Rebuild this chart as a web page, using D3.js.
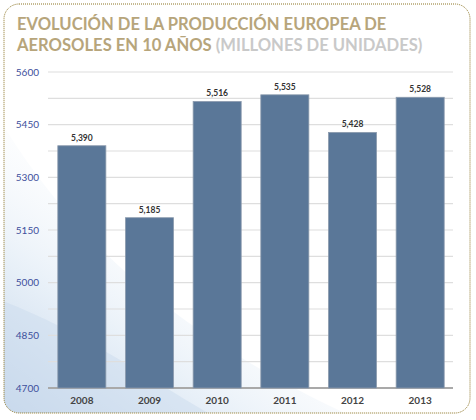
<!DOCTYPE html>
<html>
<head>
<meta charset="utf-8">
<script src="https://cdn.jsdelivr.net/npm/d3@7"></script>
<style>
  body { margin: 0; background: #fff; }
</style>
</head>
<body>
<div id="chart"></div>
<script>
const years = ["2008", "2009", "2010", "2011", "2012", "2013"];
const production = [5390, 5185, 5516, 5535, 5428, 5528];
const yTicks = [4700, 4850, 5000, 5150, 5300, 5450, 5600];
const titleLine1 = "EVOLUCIÓN DE LA PRODUCCIÓN EUROPEA DE";
const titleLine2 = "AEROSOLES EN 10 AÑOS";
const titleUnits = "(MILLONES DE UNIDADES)";

const W = 476, H = 420;
const margin = { top: 72, right: 22, bottom: 32, left: 48 };

const svg = d3.select("#chart")
  .append("svg")
    .attr("width", W)
    .attr("height", H);

// soft blue swoosh in the background
const defs = svg.append("defs");
const grad = defs.append("linearGradient")
  .attr("id", "swoosh")
  .attr("x1", "0").attr("y1", "1").attr("x2", "0.6").attr("y2", "0.3");
grad.append("stop").attr("offset", "0").attr("stop-color", "#c3d5ea");
grad.append("stop").attr("offset", "0.45").attr("stop-color", "#e8f0f8");
grad.append("stop").attr("offset", "1").attr("stop-color", "#ffffff").attr("stop-opacity", 0);

const clip = defs.append("clipPath").attr("id", "frameClip");
clip.append("rect")
  .attr("x", 4).attr("y", 4).attr("width", 466).attr("height", 409).attr("rx", 15);

const bg = svg.append("g").attr("clip-path", "url(#frameClip)");
bg.append("rect").attr("x", 0).attr("y", 0).attr("width", W).attr("height", H).attr("fill", "#fff");
bg.append("path")
  .attr("d", "M0,120 C60,220 160,330 360,420 L0,420 Z")
  .attr("fill", "url(#swoosh)");
bg.append("path")
  .attr("d", "M0,300 C80,330 150,380 220,420 L0,420 Z")
  .attr("fill", "#ccdcee")
  .attr("opacity", 0.5);

// dotted frame
svg.append("rect")
  .attr("x", 4).attr("y", 4)
  .attr("width", 466).attr("height", 409)
  .attr("rx", 15)
  .attr("fill", "none")
  .attr("stroke", "#8c7424")
  .attr("stroke-width", 1)
  .attr("stroke-dasharray", "1,1");

// title
const title = svg.append("text")
  .attr("font-family", "Lato, sans-serif")
  .attr("font-weight", "bold")
  .attr("font-size", "16.6px")
  .attr("fill", "#b7a57b");
title.append("tspan").attr("x", 17).attr("y", 30).text(titleLine1);
title.append("tspan").attr("x", 17).attr("y", 51).text(titleLine2 + " ");
title.append("tspan").attr("fill", "#c9c9c9").text(titleUnits);

const g = svg.append("g")
  .attr("transform", `translate(${margin.left}, ${margin.top})`);

const x = d3.scaleBand()
  .domain(years)
  .range([0, 406])
  .paddingInner(0.29)
  .paddingOuter(0.145);

const y = d3.scaleLinear()
  .domain([4700, 5600])
  .range([316, 0]);

// gridlines, major + half steps
const minorTicks = d3.range(4700, 5601, 75);
g.selectAll(".grid")
  .data(minorTicks)
  .join("line")
    .attr("class", "grid")
    .attr("x1", 0)
    .attr("x2", 405)
    .attr("y1", d => y(d))
    .attr("y2", d => y(d))
    .attr("stroke", d => d === 4700 ? "#a9a9a9" : "#dedede")
    .attr("stroke-width", d => d === 4700 ? 2 : 1.2);

// y axis labels
const yAxis = g.append("g")
  .call(d3.axisLeft(y).tickValues(yTicks).tickSize(0).tickPadding(9).tickFormat(d3.format("d")));
yAxis.select(".domain").remove();
yAxis.selectAll("text")
  .attr("font-family", "Lato, sans-serif")
  .attr("font-size", "10px")
  .attr("fill", "#3d4f9c");

// bars
g.selectAll(".bar")
  .data(production)
  .join("rect")
    .attr("class", "bar")
    .attr("x", (d, i) => x(years[i]))
    .attr("y", d => y(d))
    .attr("width", x.bandwidth())
    .attr("height", d => y(4700) - y(d))
    .attr("fill", "#5a7798")
    .attr("stroke", "#8b9aad")
    .attr("stroke-width", 0.8);

// value labels
g.selectAll(".val")
  .data(production)
  .join("text")
    .attr("class", "val")
    .attr("x", (d, i) => x(years[i]) + x.bandwidth() / 2)
    .attr("y", d => y(d) - 5)
    .attr("text-anchor", "middle")
    .attr("font-family", "Lato, sans-serif")
    .attr("font-size", "8.5px")
    .attr("font-weight", "bold")
    .attr("fill", "#333")
    .text(d => d3.format(",")(d));

// x axis labels
const xAxis = g.append("g")
  .attr("transform", `translate(0, ${y(4700)})`)
  .call(d3.axisBottom(x).tickSize(0).tickPadding(9));
xAxis.select(".domain").remove();
xAxis.selectAll("text")
  .attr("font-family", "Lato, sans-serif")
  .attr("font-size", "10px")
  .attr("font-weight", "bold")
  .attr("fill", "#444");
</script>
</body>
</html>
